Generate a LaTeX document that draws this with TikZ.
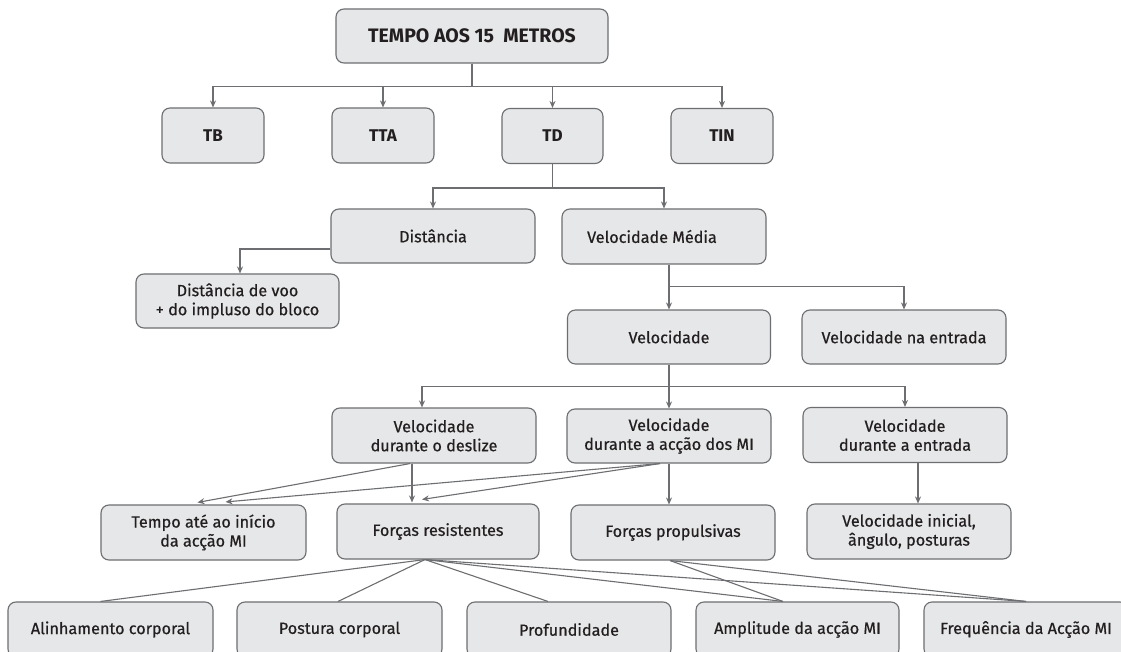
\documentclass[tikz,border=0pt]{standalone}
\usepackage{fontspec}
\setmainfont{Fira Sans}
\newfontfamily\medfont{Fira Sans}[FakeBold=0.6]
\usetikzlibrary{arrows.meta}
\definecolor{boxfill}{HTML}{E6E7E8}
\definecolor{boxline}{HTML}{6D6E71}
\definecolor{txt}{HTML}{231F20}
\tikzset{
  box/.style={draw=boxline, fill=boxfill, line width=1.1pt, rounded corners=8pt,
    minimum width=204pt, minimum height=55pt, inner sep=0pt, align=center,
    text=txt, font=\medfont\fontsize{16.2}{19}\selectfont},
  smallbox/.style={box, minimum width=102pt, font=\fontsize{17}{20}\selectfont\bfseries},
  conn/.style={draw=boxline, line width=1.1pt},
  arr/.style={conn, -{Stealth[length=7pt,width=6pt]}}
}
\begin{document}
\begin{tikzpicture}[x=1pt,y=-1pt]
\clip (0,0) rectangle (1121,652);
\fill[white] (0,0) rectangle (1121,652);
% nodes
\node[box, minimum width=272pt, minimum height=54pt, font=\fontsize{19.5}{22}\selectfont\bfseries] (top) at (472,36) {TEMPO AOS 15\ \ METROS};
\node[smallbox] (tb) at (213,135.5) {TB};
\node[smallbox] (tta) at (383,135.5) {TTA};
\node[smallbox, minimum width=101pt] (td) at (552.5,136) {TD};
\node[smallbox] (tin) at (722,136) {TIN};
\node[box, minimum height=54pt] (dist) at (433,236) {Distância};
\node[box] (vm) at (664,236.5) {\hspace*{-24pt}Velocidade Média};
\node[box, minimum width=203pt, minimum height=54pt] (dvoo) at (237.5,301) {Distância de voo\\+ do impluso do bloco};
\node[box, minimum width=203pt, minimum height=54pt] (vel) at (669,337) {Velocidade};
\node[box, minimum height=54pt] (vne) at (904,337) {Velocidade na entrada};
\node[box] (vdes) at (434,435.5) {Velocidade\\durante o deslize};
\node[box, minimum height=54pt] (vac) at (669,436) {Velocidade\\durante a acção dos MI};
\node[box] (vent) at (905,435) {Velocidade\\durante a entrada};
\node[box, minimum width=205pt] (tempo) at (203.5,532.5) {Tempo até ao início\\da acção MI};
\node[box, minimum width=202pt] (fr) at (438,531.5) {Forças resistentes};
\node[box] (fp) at (673,532.5) {Forças propulsivas};
\node[box] (via) at (909,531.5) {Velocidade inicial,\\ângulo, posturas};
\node[box, minimum width=205pt] (alin) at (110.5,629.5) {Alinhamento corporal};
\node[box, minimum width=205pt] (post) at (339.5,629.5) {Postura corporal};
\node[box] (prof) at (569,629.5) {Profundidade};
\node[box, minimum width=203pt] (ampl) at (797.5,629.5) {Amplitude da acção MI};
\node[box] (freq) at (1026,629.5) {Frequência da Acção MI};
% connectors: top level
\draw[arr] (top.south) -- ++(0,23) -| (tb.north);
\draw[arr] (top.south) -- ++(0,23) -| (tta.north);
\draw[arr] (top.south) -- ++(0,23) -| (td.north);
\draw[arr] (top.south) -- ++(0,23) -| (tin.north);
% TD
\draw[arr] (td.south) -- ++(0,24) -| (dist.north);
\draw[arr] (td.south) -- ++(0,24) -| (vm.north);
% Distancia
\draw[arr] ([yshift=-13pt]dist.west) -| ([xshift=2.5pt]dvoo.north);
% Velocidade media
\draw[arr] (vm.south -| vel.north) -- ++(0,22) -| (vel.north);
\draw[arr] (vm.south -| vel.north) -- ++(0,22) -| (vne.north);
% Velocidade
\draw[arr] (vel.south) -- ++(0,22) -| ([xshift=-12pt]vdes.north);
\draw[arr] (vel.south) -- ++(0,22) -| (vac.north);
\draw[arr] (vel.south) -- ++(0,22) -| (vent.north);
% deslize
\draw[arr] ([xshift=-24pt]vdes.south) -- ([xshift=-6pt,yshift=2pt]tempo.north);
\draw[arr] ([xshift=-22pt]vdes.south) -- ([xshift=-26pt,yshift=1pt]fr.north);
% accao
\draw[arr] ([xshift=-9pt]vac.south) -- ([xshift=22pt,yshift=2.5pt]tempo.north);
\draw[arr] ([xshift=-9pt]vac.south) -- ([xshift=-16pt,yshift=4pt]fr.north);
\draw[arr] (vac.south) -- (vac.south |- fp.north);
% entrada
\draw[arr] ([xshift=13pt]vent.south) -- ([xshift=13pt]vent.south |- via.north);
% forcas resistentes
\draw[conn] ([xshift=-13pt]fr.south) -- ([xshift=-10pt]alin.north);
\draw[conn] ([xshift=-13pt]fr.south) -- ([xshift=-1.5pt]post.north);
\draw[conn] ([xshift=-13pt]fr.south) -- ([xshift=-21pt]prof.north);
\draw[conn] ([xshift=-13pt]fr.south) -- ([xshift=-14.5pt]ampl.north);
\draw[conn] ([xshift=-13pt]fr.south) -- (freq.north);
% forcas propulsivas
\draw[conn] ([xshift=-3pt]fp.south) -- ([xshift=-14.5pt]ampl.north);
\draw[conn] ([xshift=-3pt]fp.south) -- (freq.north);
\end{tikzpicture}
\end{document}
